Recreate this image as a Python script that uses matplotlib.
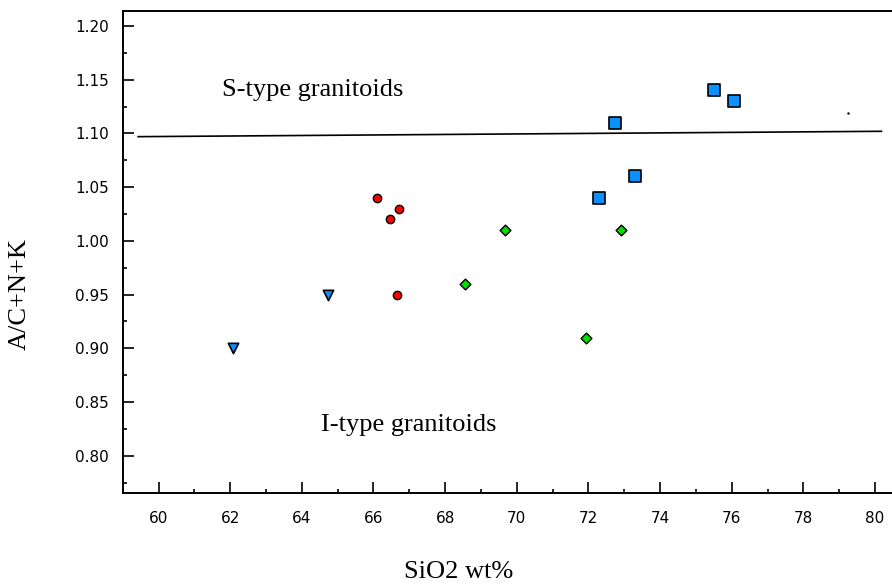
import matplotlib
matplotlib.use("Agg")
import matplotlib.pyplot as plt
from matplotlib.ticker import MultipleLocator

# Data
sq_x = [72.75, 75.5, 76.05, 72.3, 73.3]
sq_y = [1.11, 1.14, 1.13, 1.04, 1.06]

circ_x = [66.1, 66.7, 66.45, 66.67]
circ_y = [1.04, 1.03, 1.02, 0.95]

tri_x = [64.73, 62.08]
tri_y = [0.95, 0.90]

dia_x = [69.66, 72.92, 68.55, 71.94]
dia_y = [1.01, 1.01, 0.96, 0.91]

# S/I boundary line
bound_x = [59.43, 80.18]
bound_y = [1.097, 1.102]

yticks = [0.80, 0.85, 0.90, 0.95, 1.00, 1.05, 1.10, 1.15, 1.20]

fig = plt.figure(figsize=(8.92, 5.88), dpi=100)
ax = fig.add_axes([0.1376, 0.161, 0.8835, 0.8207])

ax.plot(bound_x, bound_y, color='black', lw=1.2)
ax.plot([79.24], [1.119], marker='.', ms=1.5, color='black', ls='none')

ax.scatter(sq_x, sq_y, marker='s', s=70, c='#0A90FF', edgecolors='black', linewidths=1.2, zorder=3)
ax.scatter(circ_x, circ_y, marker='o', s=36, c='#FF0000', edgecolors='black', linewidths=1.0, zorder=3)
ax.scatter(tri_x, tri_y, marker='v', s=55, c='#0A90FF', edgecolors='black', linewidths=1.2, zorder=3)
ax.scatter(dia_x, dia_y, marker='D', s=30, c='#00E000', edgecolors='black', linewidths=1.0, zorder=3)

ax.text(61.76, 1.14, 'S-type granitoids', family='Liberation Serif', fontsize=19, va='center')
ax.text(64.53, 0.829, 'I-type granitoids', family='Liberation Serif', fontsize=19, va='center')

ax.set_xlim(59.0, 81.0)
ax.set_ylim(0.765, 1.2142)

ax.xaxis.set_minor_locator(MultipleLocator(1))
ax.yaxis.set_minor_locator(MultipleLocator(0.025))
ax.set_xticks(range(60, 81, 2))
ax.set_yticks(yticks)
ax.set_yticklabels(['%.2f' % v for v in yticks])

ax.tick_params(which='major', direction='in', length=8, width=1.2, labelsize=11)
ax.tick_params(which='minor', direction='in', length=3, width=1.2)
ax.tick_params(axis='y', which='major', pad=10)
ax.tick_params(axis='x', which='major', pad=13)

for sp in ax.spines.values():
    sp.set_linewidth(1.4)
ax.spines['right'].set_visible(False)

fig.text(0.514, 0.028, 'SiO2 wt%', family='Liberation Serif', fontsize=19, ha='center', va='center')
fig.text(0.0224, 0.5, 'A/C+N+K', family='Liberation Serif', fontsize=19, ha='center', va='center', rotation=90)

fig.savefig('out.png', dpi=100)
